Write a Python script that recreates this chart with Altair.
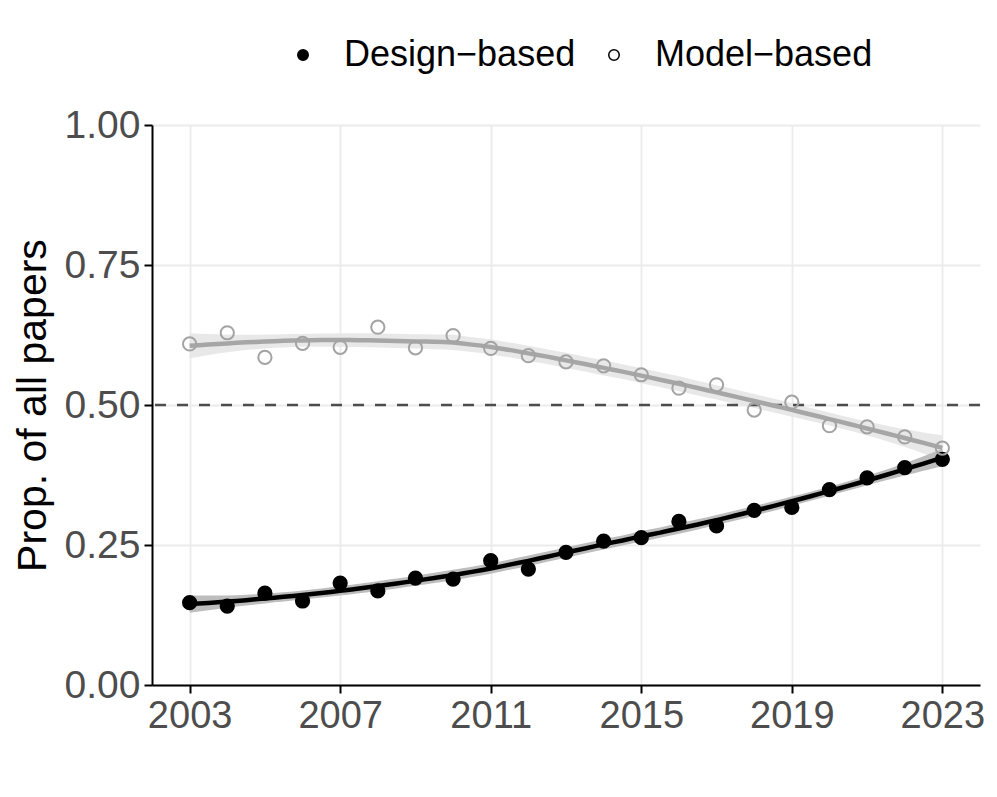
import numpy as np
import pandas as pd
import altair as alt

years = list(range(2003, 2024))
design = [0.147, 0.141, 0.164, 0.150, 0.182, 0.168, 0.191, 0.189, 0.222, 0.207, 0.237,
          0.257, 0.263, 0.292, 0.284, 0.312, 0.317, 0.349, 0.370, 0.388, 0.403]
model = [0.609, 0.629, 0.585, 0.610, 0.603, 0.639, 0.602, 0.624, 0.601, 0.588, 0.577,
         0.570, 0.554, 0.530, 0.536, 0.491, 0.505, 0.463, 0.461, 0.443, 0.423]
groups = ["Design\u2212based", "Model\u2212based"]
x_ticks = [2003, 2007, 2011, 2015, 2019, 2023]
y_ticks = [0, 0.25, 0.5, 0.75, 1.0]

FONT = "Liberation Sans"


def loess_fit(x, y, span=0.75, ngrid=81):
    x = np.asarray(x, float)
    y = np.asarray(y, float)
    n = len(x)
    q = int(np.floor(n * span))

    def lrow(x0):
        d = np.abs(x - x0)
        h = np.sort(d)[q - 1]
        w = np.clip(1 - (d / h) ** 3, 0, None) ** 3
        X = np.column_stack([np.ones(n), x - x0, (x - x0) ** 2])
        XtW = X.T * w
        return np.linalg.solve(XtW @ X, XtW)[0]

    L = np.array([lrow(xi) for xi in x])
    res = y - L @ y
    I = np.eye(n)
    M = (I - L).T @ (I - L)
    d1 = np.trace(M)
    d2 = np.trace(M @ M)
    sigma2 = res @ res / d1
    df = d1 ** 2 / d2
    z = 1.959964
    t = z + (z ** 3 + z) / (4 * df) + (5 * z ** 5 + 16 * z ** 3 + 3 * z) / (96 * df ** 2)
    grid = np.linspace(x.min(), x.max(), ngrid)
    out = []
    for g in grid:
        l = lrow(g)
        f = l @ y
        se = np.sqrt(sigma2 * (l @ l))
        out.append((g, f, f - t * se, f + t * se))
    return out


pts = pd.DataFrame({
    "year": years * 2,
    "prop": design + model,
    "group": [groups[0]] * len(years) + [groups[1]] * len(years),
})

rows = []
for gname, vals in zip(groups, [design, model]):
    for g, f, lo, hi in loess_fit(years, vals):
        rows.append({"year": g, "fit": f, "lo": lo, "hi": hi, "grp2": gname})
smooth = pd.DataFrame(rows)

xscale = alt.Scale(domain=[2002, 2024], nice=False, zero=False)
yscale = alt.Scale(domain=[0, 1], nice=False)

xaxis = alt.Axis(values=x_ticks, format="d", title=None, labelFontSize=38,
                 labelColor="#4d4d4d", labelFont=FONT, labelPadding=4,
                 domainColor="black", domainWidth=2, tickColor="black", tickWidth=2,
                 tickSize=8, grid=True, gridColor="#ebebeb", gridWidth=1.8,
                 labelFlush=False)
yaxis = alt.Axis(values=y_ticks, format=".2f", title="Prop. of all papers",
                 titleFontSize=41, titleFont=FONT, titleFontWeight="normal",
                 titleColor="black", titlePadding=10, labelFontSize=39,
                 labelColor="#4d4d4d", labelFont=FONT, labelPadding=4,
                 domainColor="black", domainWidth=2, tickColor="black", tickWidth=2,
                 tickSize=8, grid=True, gridColor="#ebebeb", gridWidth=1.8)

base_x = alt.X("year:Q", scale=xscale, axis=xaxis)

hline = alt.Chart(pd.DataFrame({"y": [0.5]})).mark_rule(
    color="#4d4d4d", strokeWidth=2.5, strokeDash=[11, 11]
).encode(y=alt.Y("y:Q", scale=yscale, axis=yaxis))

band_d = alt.Chart(smooth).transform_filter(alt.datum.grp2 == groups[0]).mark_area(
    color="#bdbdbd", opacity=1
).encode(x=base_x, y=alt.Y("lo:Q", scale=yscale, axis=yaxis), y2="hi:Q")

band_m = alt.Chart(smooth).transform_filter(alt.datum.grp2 == groups[1]).mark_area(
    color="#e6e6e6", opacity=0.9
).encode(x=base_x, y=alt.Y("lo:Q", scale=yscale, axis=yaxis), y2="hi:Q")

line_d = alt.Chart(smooth).transform_filter(alt.datum.grp2 == groups[0]).mark_line(
    strokeWidth=4.5, color="black"
).encode(x=base_x, y=alt.Y("fit:Q", scale=yscale, axis=yaxis))

line_m = alt.Chart(smooth).transform_filter(alt.datum.grp2 == groups[1]).mark_line(
    strokeWidth=4.5, color="#a6a6a6"
).encode(x=base_x, y=alt.Y("fit:Q", scale=yscale, axis=yaxis))

points = alt.Chart(pts).mark_point(shape="circle", size=175, strokeWidth=2, opacity=1).encode(
    x=base_x,
    y=alt.Y("prop:Q", scale=yscale, axis=yaxis),
    stroke=alt.condition(alt.datum.group == groups[0], alt.value("black"), alt.value("#a3a3a3")),
    fill=alt.Fill("group:N", scale=alt.Scale(domain=groups, range=["black", "transparent"]),
                  legend=alt.Legend(title=None, orient="none", direction="horizontal",
                                    legendX=133, legendY=-88, labelFontSize=36,
                                    labelFont=FONT, labelColor="black", labelLimit=0,
                                    symbolType="circle", symbolSize=110,
                                    symbolStrokeColor="black", symbolStrokeWidth=1.5,
                                    labelOffset=23, columnPadding=20, padding=0)),
)

chart = alt.layer(band_m, band_d, hline, line_m, line_d, points).properties(
    width=828, height=560,
    padding={"left": 144, "top": 117, "right": 5, "bottom": 60},
    autosize=alt.AutoSizeParams(type="none"),
    background="white",
).configure_view(stroke=None)

chart.save("out.html", embed_options={"renderer": "svg", "actions": False})
